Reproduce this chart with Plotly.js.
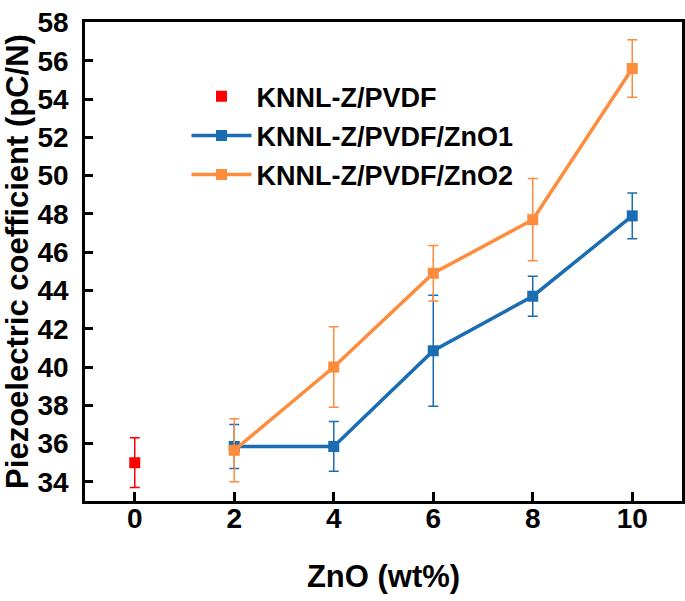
<!DOCTYPE html>
<html>
<head>
<meta charset="utf-8">
<script src="https://cdn.plot.ly/plotly-3.0.1.min.js"></script>
<style>html,body{margin:0;padding:0;background:#fff;}#chart{width:685px;height:601px;}</style>
</head>
<body>
<div id="chart"></div>
<script>
// Data
const xPVDF = [0];
const yPVDF = [35.0];
const ePVDF = [1.3];

const xZnO1 = [2, 4, 6, 8, 10];
const yZnO1 = [35.85, 35.85, 40.85, 43.7, 47.9];
const eZnO1 = [1.15, 1.3, 2.9, 1.05, 1.2];

const xZnO2 = [2, 4, 6, 8, 10];
const yZnO2 = [35.65, 40.0, 44.9, 47.7, 55.6];
const eZnO2 = [1.65, 2.1, 1.45, 2.15, 1.5];

const names = ['KNNL-Z/PVDF', 'KNNL-Z/PVDF/ZnO1', 'KNNL-Z/PVDF/ZnO2'];
const xTicks = [0, 2, 4, 6, 8, 10];
const yTicks = [34, 36, 38, 40, 42, 44, 46, 48, 50, 52, 54, 56, 58];

const RED = '#ff0000', BLUE = '#1a6db3', ORANGE = '#fd8c3c';
const FONT = 'Liberation Sans, Arial, sans-serif';

const traces = [
  {x: xPVDF, y: yPVDF, name: names[0], mode: 'markers', legendgroup: 'a',
   marker: {symbol: 'square', size: 11, color: RED},
   error_y: {type: 'data', array: ePVDF, visible: true, color: RED, thickness: 1.5, width: 5}},
  {x: xZnO1, y: yZnO1, name: names[1], mode: 'lines+markers', legendgroup: 'b',
   line: {color: BLUE, width: 3.5},
   marker: {symbol: 'square', size: 11, color: BLUE},
   error_y: {type: 'data', array: eZnO1, visible: true, color: BLUE, thickness: 1.5, width: 5}},
  {x: xZnO2, y: yZnO2, name: names[2], mode: 'lines+markers', legendgroup: 'c',
   line: {color: ORANGE, width: 3.5},
   marker: {symbol: 'square', size: 11, color: ORANGE},
   error_y: {type: 'data', array: eZnO2, visible: true, color: ORANGE, thickness: 1.5, width: 5}}
];

const layout = {
  width: 685, height: 601,
  margin: {l: 85, r: 3, t: 22, b: 100},
  paper_bgcolor: '#fff', plot_bgcolor: '#fff',
  font: {family: FONT, color: '#000'},
  showlegend: true,
  legend: {x: 0.17, y: 0.895, xanchor: 'left', yanchor: 'top',
    bgcolor: 'rgba(0,0,0,0)', borderwidth: 0,
    font: {family: FONT, size: 27, color: '#000', weight: 'bold'},
    itemwidth: 60, traceorder: 'grouped', tracegroupgap: 1},
  xaxis: {
    range: [-1, 11], tickvals: xTicks, ticktext: xTicks.map(String),
    showgrid: false, zeroline: false,
    showline: true, mirror: true, linecolor: '#000', linewidth: 3,
    ticks: 'inside', ticklen: 9, tickwidth: 3, tickcolor: '#000',
    ticklabelstandoff: -10,
    tickfont: {family: FONT, size: 28, color: '#000', weight: 'bold'},
    title: {text: 'ZnO (wt%)', font: {family: FONT, size: 31, color: '#000', weight: 'bold'}, standoff: 33}
  },
  yaxis: {
    range: [33.0, 58.03], tickvals: yTicks, ticktext: yTicks.map(v => v + '\u00a0'),
    showgrid: false, zeroline: false,
    showline: true, mirror: true, linecolor: '#000', linewidth: 3,
    ticks: 'inside', ticklen: 8, tickwidth: 3, tickcolor: '#000',
    tickfont: {family: FONT, size: 28, color: '#000', weight: 'bold'},
    title: {text: 'Piezoelectric coefficient (pC/N)', font: {family: FONT, size: 31, color: '#000', weight: 'bold'}, standoff: 0}
  }
};

Plotly.newPlot('chart', traces, layout, {displayModeBar: false, staticPlot: true});
</script>
</body>
</html>
